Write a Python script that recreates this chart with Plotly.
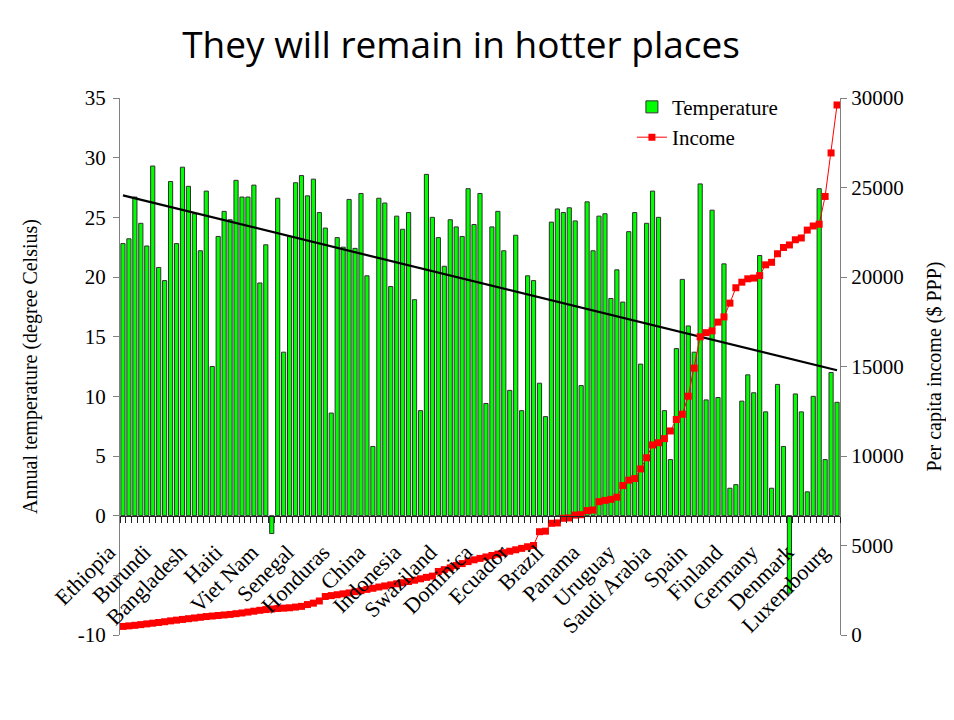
import numpy as np
import plotly.graph_objects as go

# ---- data ----
label_names = ["Ethiopia", "Burundi", "Bangladesh", "Haiti", "Viet Nam", "Senegal",
               "Honduras", "China", "Indonesia", "Swaziland", "Dominica", "Ecuador",
               "Brazil", "Panama", "Uruguay", "Saudi Arabia", "Spain", "Finland",
               "Germany", "Denmark", "Luxembourg"]
label_index = [0, 6, 12, 18, 24, 30, 36, 42, 48, 54, 60, 66, 72, 78, 84, 90, 96, 102, 108, 114, 120]

temperature = [
    22.8, 23.2, 26.7, 24.5, 22.6, 29.3, 20.8, 19.7, 28.0, 22.8,
    29.2, 27.6, 25.3, 22.2, 27.2, 12.5, 23.4, 25.5, 24.8, 28.1,
    26.7, 26.7, 27.7, 19.5, 22.7, -1.5, 26.6, 13.7, 23.4, 27.9,
    28.5, 26.8, 28.2, 25.4, 24.1, 8.6, 23.3, 22.5, 26.5, 22.4,
    27.0, 20.1, 5.8, 26.6, 26.2, 19.2, 25.1, 24.0, 25.4, 18.1,
    8.8, 28.6, 25.0, 23.3, 20.9, 24.8, 24.2, 23.4, 27.4, 24.4,
    27.0, 9.4, 24.2, 25.5, 22.2, 10.5, 23.5, 8.8, 20.1, 19.7,
    11.1, 8.3, 24.6, 25.7, 25.4, 25.8, 24.7, 10.9, 26.3, 22.2,
    25.1, 25.3, 18.2, 20.6, 17.9, 23.8, 25.4, 12.7, 24.5, 27.2,
    25.0, 8.8, 4.7, 14.0, 19.8, 15.9, 13.7, 27.8, 9.7, 25.6,
    9.9, 21.1, 2.3, 2.6, 9.6, 11.8, 10.3, 21.8, 8.7, 2.3,
    11.0, 5.8, -6.5, 10.2, 8.7, 2.0, 10.0, 27.4, 4.7, 12.0, 9.5,
]

income = [
    480, 510, 540, 580, 620, 660, 700, 740, 790, 830,
    870, 910, 950, 990, 1030, 1060, 1090, 1120, 1150, 1190,
    1230, 1280, 1330, 1380, 1420, 1450, 1480, 1500, 1520, 1560,
    1600, 1700, 1780, 1900, 2150, 2200, 2250, 2300, 2350, 2420,
    2480, 2550, 2610, 2680, 2740, 2800, 2860, 2920, 2990, 3060,
    3140, 3220, 3290, 3550, 3650, 3750, 3880, 3990, 4100, 4200,
    4280, 4360, 4440, 4520, 4600, 4680, 4760, 4840, 4930, 5000,
    5770, 5800, 6240, 6260, 6520, 6540, 6700, 6720, 6950, 6980,
    7450, 7520, 7580, 7700, 8350, 8650, 8740, 9280, 9900, 10620,
    10740, 10970, 11400, 12040, 12330, 13340, 14910, 16660, 16890, 16990,
    17480, 17770, 18540, 19400, 19710, 19900, 19940, 20080, 20680, 20820,
    21300, 21650, 21790, 22080, 22180, 22620, 22850, 22950, 24500, 26930, 29610,
]

temp_ticks = [-10, -5, 0, 5, 10, 15, 20, 25, 30, 35]
temp_ticktext = ["-10", "", "0", "5", "10", "15", "20", "25", "30", "35"]

x = list(range(len(temperature)))

# linear trend of temperature (as in the spreadsheet's trendline)
slope, intercept = np.polyfit(x, temperature, 1)
trend_x = [x[0], x[-1]]
trend_y = [intercept + slope * v for v in trend_x]

SERIF = "Liberation Serif, Times New Roman, serif"

fig = go.Figure()
fig.add_trace(go.Bar(
    x=x, y=temperature, name="Temperature",
    marker=dict(color="#00FF00", line=dict(color="#303030", width=1)),
    yaxis="y",
))
fig.add_trace(go.Scatter(
    x=trend_x, y=trend_y, mode="lines", showlegend=False,
    line=dict(color="black", width=2.2), yaxis="y", hoverinfo="skip",
))
fig.add_trace(go.Scatter(
    x=x, y=income, name="Income", mode="lines+markers",
    line=dict(color="#FF0000", width=1),
    marker=dict(symbol="square", size=7, color="#FF0000"),
    yaxis="y2",
))

fig.update_layout(
    width=938, height=704,
    margin=dict(l=112, r=106, t=90, b=77),
    paper_bgcolor="white", plot_bgcolor="white",
    bargap=0.3,
    showlegend=True,
    title=dict(text="They will remain in hotter places", x=0.483, xanchor="center",
               y=0.947, yanchor="middle",
               font=dict(family="Open Sans, DejaVu Sans, sans-serif", size=37, color="black")),
    legend=dict(x=0.711, y=1.021, xanchor="left", yanchor="top", bgcolor="rgba(0,0,0,0)",
                font=dict(family=SERIF, size=21, color="black"), itemwidth=30, tracegroupgap=0),
    font=dict(family=SERIF, size=21, color="black"),
    xaxis=dict(
        range=[-0.5, len(x) - 0.5], automargin=False,
        tickmode="array", tickvals=label_index, ticktext=label_names,
        tickangle=-45, ticks="", showgrid=False, zeroline=False,
        showline=True, linecolor="#222222", linewidth=1,
        anchor="free", position=10 / 45,
        ticklabelshift=-14, ticklabelstandoff=14,
        tickfont=dict(family=SERIF, size=22, color="black"),
        minor=dict(tickmode="array", tickvals=[i - 0.5 for i in range(len(x) + 1)],
                   ticks="outside", ticklen=6, tickcolor="#222222", tickwidth=1),
    ),
    yaxis=dict(
        range=[-10, 35], tickmode="array", tickvals=temp_ticks, ticktext=temp_ticktext,
        automargin=False,
        ticks="outside", ticklen=6, tickcolor="#808080", ticklabelstandoff=3,
        showline=True, linecolor="#808080", linewidth=1, showgrid=False, zeroline=False,
        title=dict(text="Annual temperature (degree Celsius)", standoff=34,
                   font=dict(family=SERIF, size=20, color="black")),
        tickfont=dict(family=SERIF, size=21, color="black"),
    ),
    yaxis2=dict(
        range=[0, 30000], dtick=5000, tickformat="d", overlaying="y", side="right",
        automargin=False,
        ticks="outside", ticklen=6, tickcolor="#808080",
        showline=True, linecolor="#808080", linewidth=1, showgrid=False, zeroline=False,
        title=dict(text="Per capita income ($ PPP)", standoff=28,
                   font=dict(family=SERIF, size=20, color="black")),
        tickfont=dict(family=SERIF, size=21, color="black"),
    ),
)

fig.write_html("out.html")
